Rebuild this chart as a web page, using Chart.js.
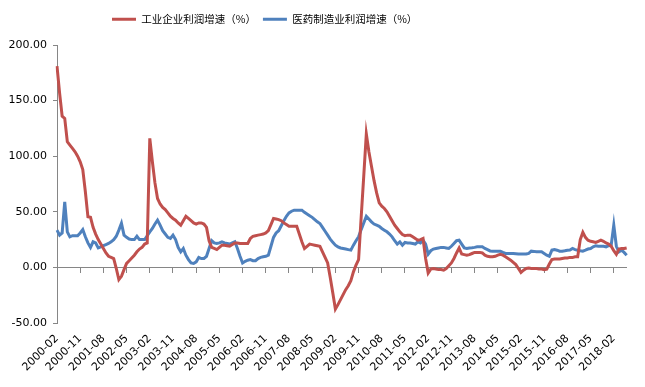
<!DOCTYPE html>
<html><head><meta charset="utf-8">
<script src="https://cdn.jsdelivr.net/npm/chart.js@4"></script>
<style>html,body{margin:0;padding:0;background:#fff}</style>
</head><body>
<canvas id="c" width="645" height="387"></canvas>
<script>
// Categories: monthly, 2000-02 .. 2018-07
const startYear = 2000, startMonth = 2, monthCount = 222;
const months = [];
for (let k = 0; k < monthCount; k++) {
  const m = startMonth - 1 + k;
  const y = startYear + Math.floor(m / 12);
  const mm = (m % 12) + 1;
  months.push(y + '-' + (mm < 10 ? '0' + mm : '' + mm));
}
const tickEvery = 9;
const seriesNames = ['工业企业利润增速（%）', '医药制造业利润增速（%）'];

const industryProfit = [
  181, 157, 136, 134, 113, 110, 107, 104, 100, 95,
  88, 68, 45.5, 45, 36, 30, 25, 21, 17, 13,
  10, 9, 8, -1, -11, -8, -2, 3.6, 6, 8.5,
  11, 14, 16.5, 18, 21, 22, 116, 95, 76, 62,
  57, 54, 52, 49, 46, 44, 42.5, 40, 38, 42,
  46, 44, 42, 40, 39, 40, 40, 39, 36, 24,
  18, 17, 16, 18, 20, 20, 19.5, 19, 20.5, 22,
  22, 21.5, 21.5, 21.5, 21.5, 26, 28, 28.5, 29, 29.5,
  30, 31, 33, 38.5, 44, 43.5, 43, 42, 40, 38.5,
  37, 37, 37, 37, 30, 23, 17, 19, 21, 20.5,
  20, 19.5, 19, 14, 9, 4, -9, -23, -37.5, -33.5,
  -29, -24.5, -20, -16.5, -12, -4, 2, 7, 45, 82,
  120, 104, 91, 78, 67, 58, 55, 53, 50, 46,
  42, 38, 35, 32, 29.5, 28.5, 29, 29, 27.5, 26,
  24.5, 25, 26, 8, -5, -1.5, -1, -1.5, -2, -2,
  -2.5, -1, 1.5, 4, 8, 13, 17.5, 12, 11.5, 11,
  11.5, 12.5, 13.5, 13.5, 13.5, 13, 11, 10, 9.5, 9.5,
  10, 11, 11.7, 11, 9.5, 8, 6.5, 4.5, 2.5, -1,
  -4.5, -2.5, -1, -0.5, -1, -1, -1, -1.5, -1.5, -2,
  -1.5, 3, 7, 7.5, 7.5, 7.5, 8, 8.5, 8.5, 9,
  9, 9.5, 9.5, 25, 31.5, 27, 24.5, 23.5, 23, 22.5,
  23.5, 24.5, 23.5, 22, 21, 19, 15, 11.7, 16.5, 17,
  17, 17.5
];

const pharmaProfit = [
  33.5, 29, 31, 59, 32, 27.5, 28.5, 28.5, 28.5, 31,
  34, 27.5, 22, 18, 23, 22, 17.6, 18.5, 19.5, 20.5,
  21.5, 23, 25, 28, 33.5, 39.6, 29, 27, 25.5, 25,
  25, 28, 25, 25, 25, 28.5, 32, 35, 39, 42.5,
  38, 33, 30, 27, 26, 29, 25, 18, 14, 17,
  11, 7, 4, 3.5, 5, 9, 8, 8, 10, 17,
  24, 22, 21.5, 22, 23, 22, 21.5, 21, 22, 23,
  17, 10, 4, 5.5, 6.5, 7, 6, 6, 8, 9,
  9.5, 10, 11, 19, 27, 31, 33, 37.5, 42, 46,
  49, 50.5, 51.5, 51.5, 51.5, 51.5, 49.5, 48, 46.5, 45,
  43, 41, 39.5, 36, 32.5, 29, 25.5, 22.5, 20, 18.5,
  17.5, 17, 16.5, 16, 15.5, 20, 24, 27.5, 34, 40,
  46, 43.5, 41, 39, 38, 37, 35, 33.5, 32, 30,
  27.5, 24, 21, 23, 20, 22.5, 22, 22, 21.5, 21,
  23, 22, 24.5, 21, 12, 15, 16.5, 17, 17.5, 18,
  18, 17.5, 17, 19, 21.5, 24, 24.5, 21, 17.5, 17,
  17.5, 17.6, 18, 18.5, 18.5, 18.5, 17, 16, 14.8, 14.6,
  14.6, 14.6, 14.6, 13.5, 12.6, 12.6, 12.6, 12.6, 12.3, 12,
  12, 12, 12, 12.6, 14.6, 14.4, 14, 14, 14, 12.5,
  11, 10, 15.5, 16, 15.5, 14.6, 14.6, 15, 15.5, 15.6,
  17, 16, 15.5, 15, 14.6, 15.5, 16.5, 17, 18.5, 19.5,
  19, 19, 19, 18.5, 19.5, 20, 38, 19, 14, 15.5,
  13.5, 11
];

const yMin = -50, yMax = 200, yStep = 50;

const axisGray = '#868686';
const redColor = '#C0504D';
const blueColor = '#4F81BD';

Chart.defaults.font.family = '"DejaVu Sans", sans-serif';
Chart.defaults.font.size = 11;
Chart.defaults.color = '#000';

const legendShift = {
  id: 'legendShift',
  afterLayout(chart) {
    const l = chart.legend;
    if (l) {
      const w = l.right - l.left, h = l.bottom - l.top;
      l.left = 105; l.right = 105 + w;
      l.top = 7; l.bottom = 7 + h;
    }
  }
};

new Chart(document.getElementById('c').getContext('2d'), {
  type: 'line',
  data: {
    labels: months,
    datasets: [
      { label: seriesNames[0], data: industryProfit, borderColor: redColor, backgroundColor: redColor,
        borderWidth: 3, pointRadius: 0, tension: 0, xAxisID: 'x', yAxisID: 'y' },
      { label: seriesNames[1], data: pharmaProfit, borderColor: blueColor, backgroundColor: blueColor,
        borderWidth: 3, pointRadius: 0, tension: 0, xAxisID: 'x', yAxisID: 'y' }
    ]
  },
  plugins: [legendShift],
  options: {
    responsive: false,
    animation: false,
    layout: { padding: { top: 7, right: 14, left: 0, bottom: 0 } },
    plugins: {
      tooltip: { enabled: false },
      legend: {
        position: 'top',
        align: 'start',
        labels: {
          usePointStyle: true,
          pointStyle: 'line',
          pointStyleWidth: 24,
          padding: 7,
          color: '#000',
          font: { family: '"Noto Sans CJK SC", "DejaVu Sans", sans-serif', size: 10.5 }
        }
      }
    },
    scales: {
      x: {
        type: 'category',
        position: 'bottom',
        offset: false,
        grid: { display: false, drawTicks: false },
        border: { display: false },
        ticks: {
          autoSkip: false,
          minRotation: 45,
          maxRotation: 45,
          padding: 9,
          color: '#000',
          callback: function (v, i) { return i % tickEvery === 0 ? this.getLabelForValue(v) : ''; }
        },
        afterFit(s) { s.height = 64; }
      },
      x2: {
        type: 'category',
        axis: 'x',
        position: { y: 0 },
        offset: false,
        grid: {
          drawOnChartArea: false,
          drawTicks: true,
          tickLength: 5,
          color: c => (c.index % tickEvery === 0 ? axisGray : 'rgba(0,0,0,0)')
        },
        border: { display: true, color: axisGray, width: 1 },
        ticks: { display: false, autoSkip: false }
      },
      y: {
        type: 'linear',
        position: 'left',
        min: yMin,
        max: yMax,
        ticks: {
          stepSize: yStep,
          padding: 6,
          color: '#000',
          callback: v => Number(v).toFixed(2)
        },
        grid: { drawOnChartArea: false, drawTicks: true, tickLength: 4, color: axisGray },
        border: { display: true, color: axisGray, width: 1 },
        afterFit(s) { s.width = 57; s.paddingTop = 45; }
      }
    }
  }
});
</script>
</body></html>
